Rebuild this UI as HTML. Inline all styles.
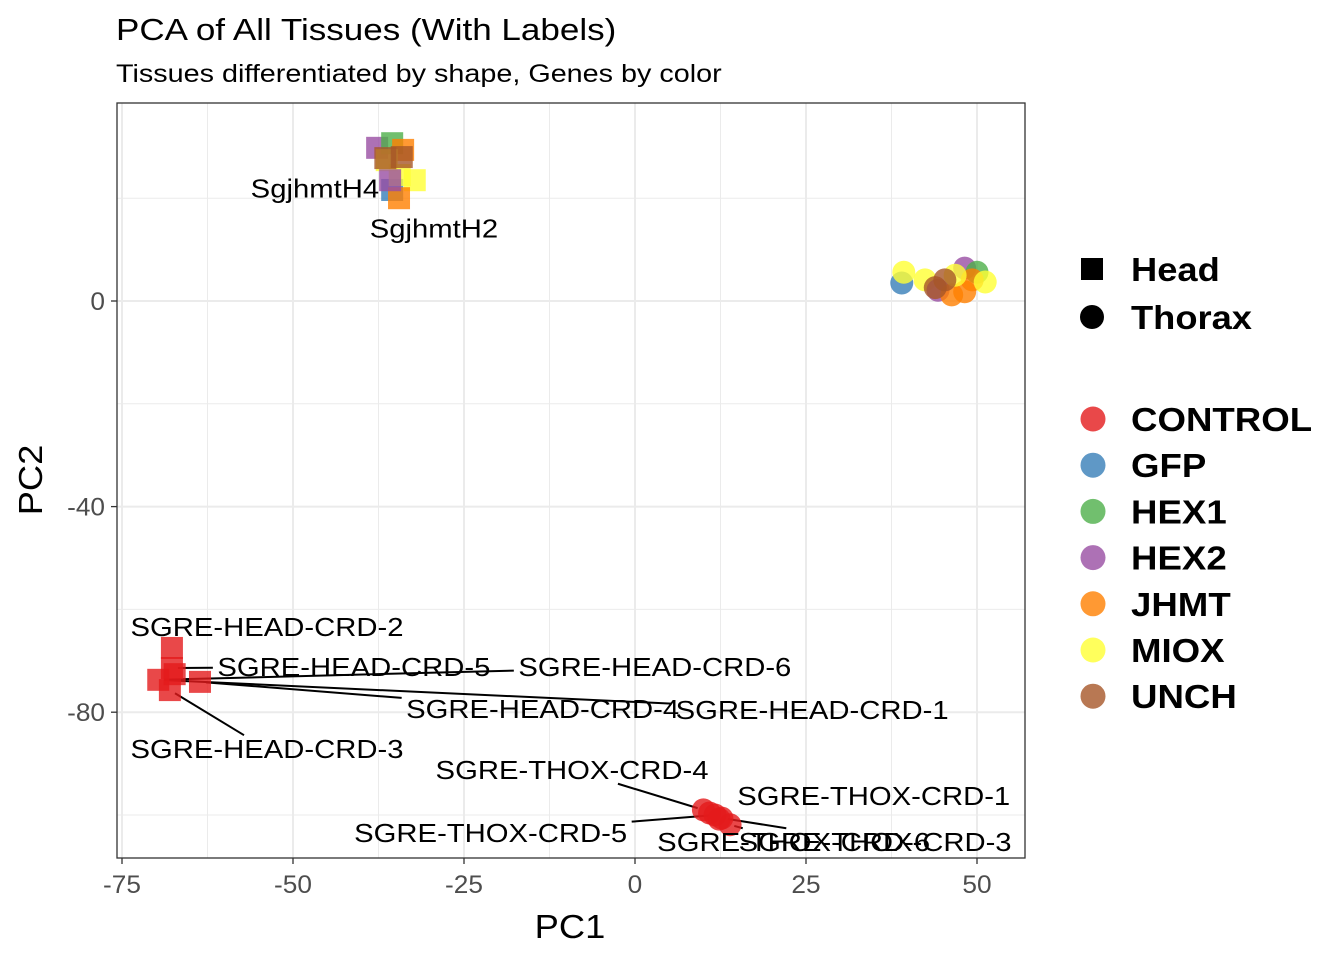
<!DOCTYPE html>
<html><head><meta charset="utf-8"><style>
body{margin:0;background:#fff;}
svg{font-family:"Liberation Sans",Arial,sans-serif;}
</style></head><body>
<svg id="chart" width="1344" height="960"></svg>
<script>
const xTicks=[-75,-50,-25,0,25,50];
const yTicks=[0,-40,-80];
const geneNames=["CONTROL","GFP","HEX1","HEX2","JHMT","MIOX","UNCH"];
const geneColors=["#E41A1C","#377EB8","#4DAF4A","#984EA3","#FF7F00","#FFFF33","#A65628"];
const tissueNames=["Head","Thorax"];
// points: pc1, pc2, gene index, tissue index
const pc1=[-37.7,-35.5,-35.5,-33.9,-36.3,-32.2,-34.4,-34.5,-35.8,-36.5,-34.1,
 39,39.3,42.4,44.3,48.2,50,46.3,48.2,49.3,46.8,51.2,43.9,45.3,
 -67.7,-67.7,-69.7,-68,-63.6,-67.3,
 10,11.7,12.7,13.9,10.9,12.3];
const pc2=[29.8,30.7,21.6,29.4,27.4,23.5,24.5,20,23.5,27.8,28,
 3.5,5.6,4.1,2.1,6.4,5.6,1.2,1.8,4.1,5,3.7,2.6,4.1,
 -67.5,-71.4,-73.7,-75.7,-74.1,-72.6,
 -99,-100,-100.6,-101.9,-99.6,-100.8];
const gene=[3,2,1,4,5,5,5,4,3,6,6,
 1,5,5,3,3,2,4,4,4,5,5,6,6,
 0,0,0,0,0,0,
 0,0,0,0,0,0];
const tissue=[0,0,0,0,0,0,0,0,0,0,0,
 1,1,1,1,1,1,1,1,1,1,1,1,1,
 0,0,0,0,0,0,
 1,1,1,1,1,1];
// labels: text, label center pc1, label pc2, point index (-1 = no segment)
const labelText=["SgjhmtH4","SgjhmtH2","SGRE-HEAD-CRD-2","SGRE-HEAD-CRD-5","SGRE-HEAD-CRD-6","SGRE-HEAD-CRD-4","SGRE-HEAD-CRD-1","SGRE-HEAD-CRD-3","SGRE-THOX-CRD-4","SGRE-THOX-CRD-1","SGRE-THOX-CRD-5","SGRE-THOX-CRD-6","SGRE-THOX-CRD-3"];
const labelX=[-46.8,-29.4,-53.8,-41.1,2.9,-13.5,25.9,-53.8,-9.2,34.9,-21.1,23.2,35.1];
const labelY=[21.9,14.1,-63.4,-71.2,-71.2,-79.4,-79.6,-87.2,-91.2,-96.3,-103.5,-105.3,-105.3];
const labelPt=[-1,-1,-1,25,26,28,26,27,30,-1,31,33,32];

const L=117,R=1025,T=103,B=858;
const sx=v=>635+v*6.84;
const sy=v=>301-v*5.14;
const NS="http://www.w3.org/2000/svg";
const svg=document.getElementById('chart');
function mk(tag,attrs,parent){const e=document.createElementNS(NS,tag);for(const k in attrs)e.setAttribute(k,attrs[k]);(parent||svg).appendChild(e);return e;}
function txt(s,attrs,f){const e=mk('text',attrs);e.textContent=s;
 const w=e.getComputedTextLength();
 if(w>0&&f){e.setAttribute('textLength',(w*f).toFixed(1));e.setAttribute('lengthAdjust','spacingAndGlyphs');}
 return e;}

const panel=mk('rect',{x:L,y:T,width:R-L,height:B-T,fill:'#fff'});


for(let v=-87.5;v<=62.5;v+=25){const x=sx(v);if(x>L&&x<R)mk('line',{x1:x,x2:x,y1:T,y2:B,stroke:'#ebebeb','stroke-width':1});}
for(let v=-100;v<=40;v+=40){const y=sy(v);if(y>T&&y<B)mk('line',{x1:L,x2:R,y1:y,y2:y,stroke:'#ebebeb','stroke-width':1});}
xTicks.forEach(v=>{mk('line',{x1:sx(v),x2:sx(v),y1:T,y2:B,stroke:'#ebebeb','stroke-width':2});});
yTicks.forEach(v=>{mk('line',{x1:L,x2:R,y1:sy(v),y2:sy(v),stroke:'#ebebeb','stroke-width':2});});
// segments: from point toward label center, stopping at label box edge
labelPt.forEach((p,i)=>{if(p<0)return;
 const lx=sx(labelX[i]),ly=sy(labelY[i]);
 const px=sx(pc1[p]),py=sy(pc2[p]);
 const hw=labelText[i].length*9.4, hh=14;
 const dx=lx-px, dy=ly-py;
 let t=1;
 if(Math.abs(dx)>hw) t=Math.min(t,(Math.abs(dx)-hw)/Math.abs(dx));
 if(Math.abs(dy)>hh) t=Math.min(t,Math.max((Math.abs(dy)-hh)/Math.abs(dy), Math.abs(dx)>hw?(Math.abs(dx)-hw)/Math.abs(dx):0));
 if(Math.abs(dx)>hw && Math.abs(dy)>hh){
   t=Math.max((Math.abs(dx)-hw)/Math.abs(dx),(Math.abs(dy)-hh)/Math.abs(dy));
 }
 const ex=px+dx*t, ey=py+dy*t;
 const len=Math.hypot(ex-px,ey-py), pad=Math.min(6,len/3);
 const s=mk('line',{x1:px+(ex-px)/len*pad,y1:py+(ey-py)/len*pad,x2:ex,y2:ey,stroke:'#000','stroke-width':2});
 
 
});
pc1.forEach((v,i)=>{
 const x=sx(v),y=sy(pc2[i]),c=geneColors[gene[i]];
 let e;
 if(tissue[i]===0) e=mk('rect',{x:x-11,y:y-11,width:22,height:22,fill:c,'fill-opacity':0.8});
 else e=mk('circle',{cx:x,cy:y,r:11.5,fill:c,'fill-opacity':0.8});
 
 
});
labelText.forEach((s,i)=>{
 const e=txt(s,{x:sx(labelX[i]),y:sy(labelY[i])+9,'font-size':26,'text-anchor':'middle',fill:'#000'},1.125);
 
 
});
const border=mk('rect',{x:L,y:T,width:R-L,height:B-T,fill:'none',stroke:'#333','stroke-width':1.3});


xTicks.forEach(v=>{mk('line',{x1:sx(v),x2:sx(v),y1:B,y2:B+6,stroke:'#333','stroke-width':1.3});
 const t=txt(String(v),{x:sx(v),y:B+35,'font-size':25,'text-anchor':'middle',fill:'#4d4d4d'},1.05);
 
 });
yTicks.forEach(v=>{mk('line',{x1:L-6,x2:L,y1:sy(v),y2:sy(v),stroke:'#333','stroke-width':1.3});
 const t=txt(String(v),{x:L-12,y:sy(v)+9,'font-size':25,'text-anchor':'end',fill:'#4d4d4d'},1.05);
 
 });
let e=txt('PC1',{x:570,y:938,'font-size':33,'text-anchor':'middle'},1.1);


e=txt('PC2',{x:0,y:0,'font-size':33,'text-anchor':'middle',transform:'translate(42,480) rotate(-90)'},1.1);


e=txt('PCA of All Tissues (With Labels)',{x:116,y:40,'font-size':31},1.13);


e=txt('Tissues differentiated by shape, Genes by color',{x:116,y:82,'font-size':25},1.15);


tissueNames.forEach((n,i)=>{const y=269+i*48;
 let m= i===0? mk('rect',{x:1081,y:y-11,width:22,height:22,fill:'#000'}) : mk('circle',{cx:1092,cy:y,r:12,fill:'#000'});
 
 
 const t=txt(n,{x:1131,y:y+12,'font-size':33,'font-weight':'bold'},1.1);
 
 });
geneNames.forEach((n,i)=>{const y=419+i*46.2;
 const m=mk('circle',{cx:1093,cy:y,r:12.5,fill:geneColors[i],'fill-opacity':0.8});
 
 
 const t=txt(n,{x:1131,y:y+12,'font-size':33,'font-weight':'bold'},1.11);
 
 });
</script>
</body></html>
